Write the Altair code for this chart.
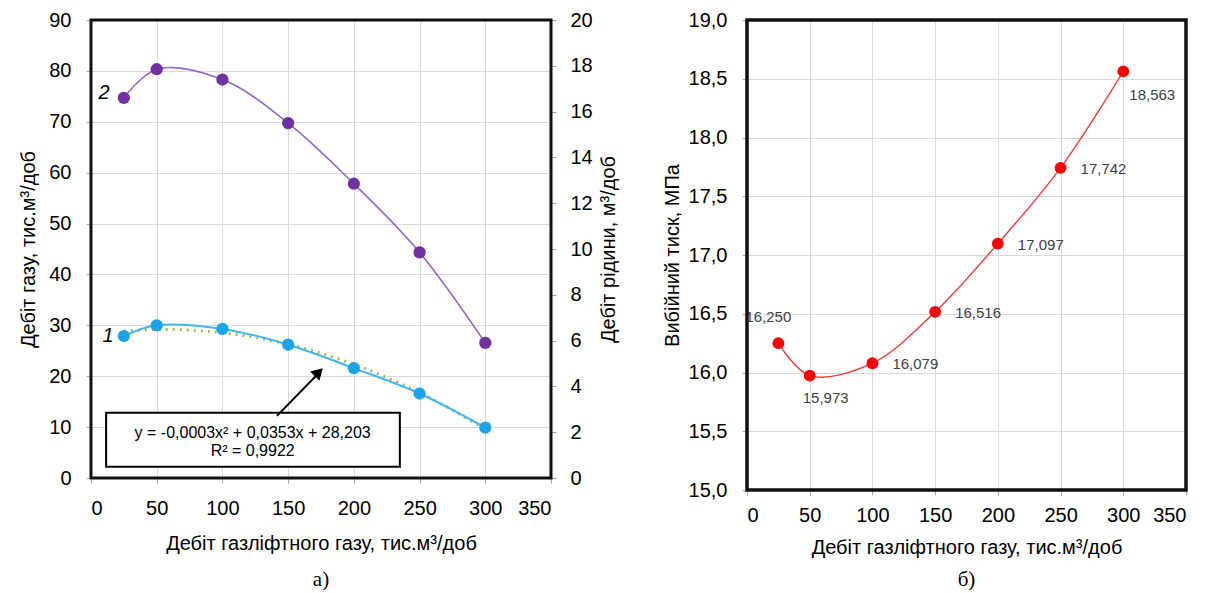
import altair as alt
import pandas as pd

# ---------------- data ----------------
gas_lift = [25, 50, 100, 150, 200, 250, 300]                 # тис.м3/доб
gas_rate = [27.9, 30.0, 29.3, 26.2, 21.6, 16.6, 9.9]          # curve 1, left axis
liquid_rate = [16.6, 17.85, 17.4, 15.5, 12.85, 9.85, 5.9]     # curve 2, right axis
bhp = [16.250, 15.973, 16.079, 16.516, 17.097, 17.742, 18.563]
bhp_labels = ["16,250", "15,973", "16,079", "16,516", "17,097", "17,742", "18,563"]
bhp_label_place = ["top", "bottom", "right", "right", "right", "right", "bottomright"]

x_ticks = [0, 50, 100, 150, 200, 250, 300, 350]
gas_ticks = [0, 10, 20, 30, 40, 50, 60, 70, 80, 90]
liquid_ticks = [0, 2, 4, 6, 8, 10, 12, 14, 16, 18, 20]
bhp_ticks = [15.0, 15.5, 16.0, 16.5, 17.0, 17.5, 18.0, 18.5, 19.0]
equation_lines = ["y = -0,0003x² + 0,0353x + 28,203", "R² = 0,9922"]

# annotation anchors (data units of the left chart)
eq_box = {"x": [11.5], "x2": [235.0], "y": [2.2], "y2": [12.8]}
eq_text_pos = {"x": [123.0, 123.0], "y": [8.75, 5.25]}
arrow_pos = {"x": [141.5], "y": [12.2], "x2": [172.0], "y2": [20.3]}
arrow_head = {"x": [173.3], "y": [20.8]}
curve_labels = {"x": [12.9, 9.9], "y": [27.9, 75.6], "t": ["1", "2"]}

# ---------------- style ----------------
FONT = "Liberation Sans"
GRID = "#D9D9D9"
TICK = "#A6A6A6"
FS = 20

def axis(**kw):
    base = dict(labelFont=FONT, titleFont=FONT, labelFontSize=FS, titleFontSize=FS,
                labelColor="#000", titleColor="#000", titleFontWeight="normal",
                domain=False, tickColor=TICK, tickSize=5, gridColor=GRID)
    base.update(kw)
    return alt.Axis(**base)

def frame(width=3):
    # black border around the plot area
    return alt.Chart(pd.DataFrame({"k": [0]})).mark_rect(
        fill=None, stroke="#111111", strokeWidth=width
    ).encode(x=alt.value(0), x2=alt.value("width"), y=alt.value(0), y2=alt.value("height"))

xs = alt.Scale(domain=[0, 350], nice=False, zero=False)
X_TITLE = "Дебіт газліфтного газу, тис.м³/доб"
x_axis = axis(values=x_ticks, grid=True, labelPadding=15, titlePadding=15, title=X_TITLE)
x_axis_r = axis(values=x_ticks, grid=True, labelPadding=10, titlePadding=12, title=X_TITLE)

# ---------------- left chart ----------------
df1 = pd.DataFrame({"x": gas_lift, "gas": gas_rate, "liq": liquid_rate})
ys_gas = alt.Scale(domain=[0, 90], nice=False)
y_gas_axis = axis(values=gas_ticks, grid=True, labelPadding=15, titlePadding=10,
                  title="Дебіт газу, тис.м³/доб")

X = alt.X("x:Q", scale=xs, axis=x_axis)
Yg = alt.Y("gas:Q", scale=ys_gas, axis=y_gas_axis)

def XY(xf="x", yf="y"):
    return dict(x=alt.X(f"{xf}:Q", scale=xs, axis=x_axis),
                y=alt.Y(f"{yf}:Q", scale=ys_gas, axis=y_gas_axis))

trend = alt.Chart(df1).transform_regression(
    "x", "gas", method="poly", order=2, extent=[25, 300]
).mark_line(color="#9BBB59", strokeDash=[2, 5], strokeWidth=3).encode(x=X, y=Yg)

s1_line = alt.Chart(df1).mark_line(color="#45B6EC", strokeWidth=2,
                                   interpolate="catmull-rom").encode(x=X, y=Yg)
s1_pts = alt.Chart(df1).mark_circle(size=150, color="#1CA4E6", opacity=1).encode(x=X, y=Yg)

box = alt.Chart(pd.DataFrame(eq_box)).mark_rect(
    fill="white", stroke="black", strokeWidth=2
).encode(x2="x2:Q", y2="y2:Q", **XY())

eq_df = pd.DataFrame({"x": eq_text_pos["x"], "y": eq_text_pos["y"], "t": equation_lines})
eq_text = alt.Chart(eq_df).mark_text(font=FONT, fontSize=16, color="#000").encode(
    text="t:N", **XY())

arrow = alt.Chart(pd.DataFrame(arrow_pos)).mark_rule(color="#000", strokeWidth=2).encode(
    x2="x2:Q", y2="y2:Q", **XY())
head = alt.Chart(pd.DataFrame(arrow_head)).mark_point(
    shape="triangle-up", angle=45, filled=True, size=170, color="#000", opacity=1
).encode(**XY())

lbl = alt.Chart(pd.DataFrame(curve_labels)).mark_text(
    font=FONT, fontSize=20, fontStyle="italic", color="#000"
).encode(text="t:N", **XY())

ys_liq = alt.Scale(domain=[0, 20], nice=False)
y_liq_axis = axis(orient="right", values=liquid_ticks, grid=False, labelPadding=14,
                  titlePadding=6, titleAngle=270, titleBaseline="top",
                  title="Дебіт рідини, м³/доб")
Yl = alt.Y("liq:Q", scale=ys_liq, axis=y_liq_axis)
s2_line = alt.Chart(df1).mark_line(color="#9067C6", strokeWidth=1.6,
                                   interpolate="catmull-rom").encode(x=X, y=Yl)
s2_pts = alt.Chart(df1).mark_circle(size=150, color="#7030A0", opacity=1).encode(x=X, y=Yl)

left = alt.layer(
    alt.layer(trend, s1_line, s1_pts, box, eq_text, arrow, head, lbl),
    alt.layer(s2_line, s2_pts, frame(3)),
).resolve_scale(y="independent").properties(
    width=460, height=458,
    title=alt.TitleParams("а)", orient="bottom", font="Liberation Serif", fontSize=21,
                          fontWeight="normal", color="#000", offset=16, anchor="middle"),
)

# ---------------- right chart ----------------
df2 = pd.DataFrame({"x": gas_lift, "p": bhp, "lab": bhp_labels, "place": bhp_label_place})
ys_p = alt.Scale(domain=[15, 19], nice=False, zero=False)
y_p_axis = axis(values=bhp_ticks, grid=True, labelPadding=15, titlePadding=6,
                labelExpr="replace(format(datum.value, '.1f'), '.', ',')",
                title="Вибійний тиск, МПа")
Xr = alt.X("x:Q", scale=xs, axis=x_axis_r)
Yp = alt.Y("p:Q", scale=ys_p, axis=y_p_axis)

p_line = alt.Chart(df2).mark_line(color="#F03A3A", strokeWidth=1.4,
                                  interpolate="catmull-rom").encode(x=Xr, y=Yp)
p_pts = alt.Chart(df2).mark_circle(size=140, color="#FF0000", opacity=1).encode(x=Xr, y=Yp)

def labels(place, **kw):
    return alt.Chart(df2).transform_filter(alt.datum.place == place).mark_text(
        font=FONT, fontSize=15, color="#404040", **kw
    ).encode(x=Xr, y=Yp, text="lab:N")

p_lab = alt.layer(
    labels("top", align="center", dx=-10, dy=-26),
    labels("bottom", align="left", dx=-7, dy=22),
    labels("right", align="left", dx=20, dy=1),
    labels("bottomright", align="left", dx=6, dy=24),
)

right = alt.layer(p_line, p_pts, p_lab, frame(3.5)).properties(
    width=439, height=470,
    title=alt.TitleParams("б)", orient="bottom", font="Liberation Serif", fontSize=21,
                          fontWeight="normal", color="#000", offset=12, anchor="middle"),
)

chart = alt.hconcat(left, right, spacing=43).properties(
    padding={"left": 10, "top": 2, "right": 5, "bottom": 0},
    background="white",
).configure_view(stroke=None)

chart.save("out.html", embed_options={"renderer": "svg", "actions": False})
